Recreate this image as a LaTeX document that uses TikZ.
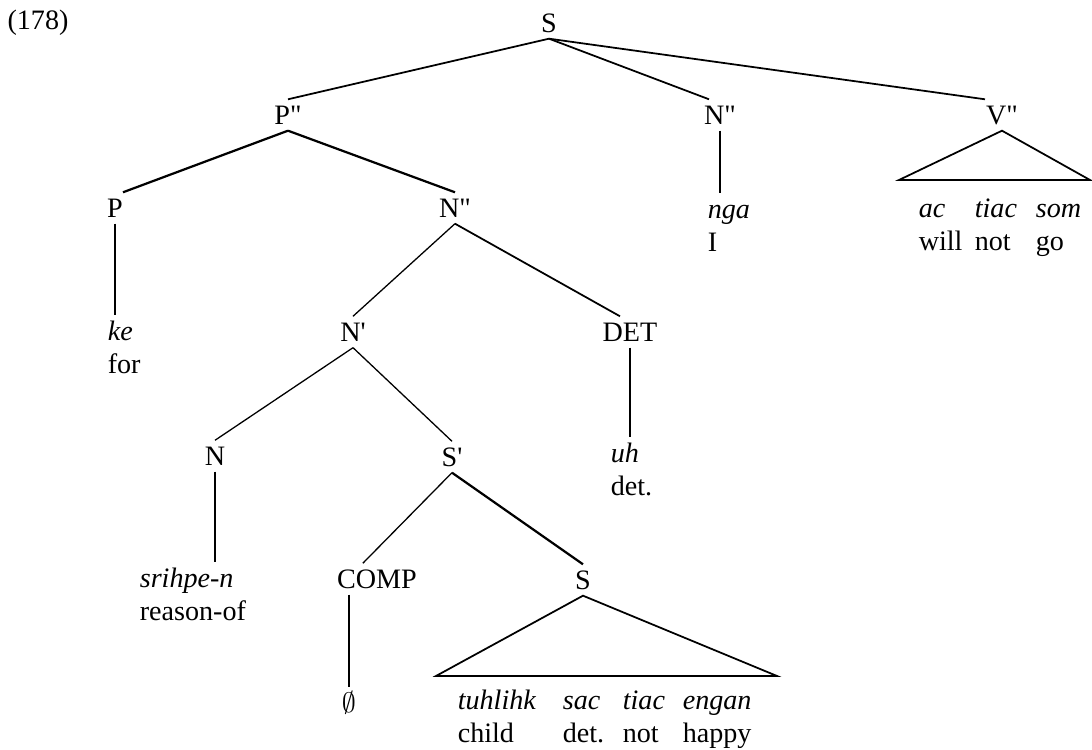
\documentclass[tikz,border=0pt]{standalone}
\usepackage{fontspec}
\setmainfont{Liberation Serif}[Ligatures=TeXOff]
\usetikzlibrary{calc}

\begin{document}
\begin{tikzpicture}[
    x=0.015cm, y=-0.015cm,
    every node/.style={font=\fontsize{12}{14}\selectfont},
    cat/.style={text height=8pt, text depth=0pt, inner sep=2.5pt},
    leaf/.style={anchor=north west, align=left, inner sep=1pt},
    branch/.style={line width=0.55pt},
    mid/.style={line width=0.75pt},
    heavy/.style={line width=0.95pt}
]
\useasboundingbox (0,0) rectangle (1092,750);

% example number
\node (num) at (38,23) {(178)};

% root and first level
\node[cat] (s) at (549,23) {S};
\node[cat] (pbar) at (288,115) {P"};
\node[cat] (nbar2) at (720,115) {N"};
\node[cat] (vbar) at (1002,115) {V"};

% second level
\node[cat] (p) at (115,208) {P};
\node[cat] (nbar1) at (455,208) {N"};
\node[leaf] (nga) at (705,193) {\strut\textit{nga}\\I};

% V'' triangle
\coordinate (vl) at (899,180);
\coordinate (vr) at (1090,180);
\node[leaf] (ac) at (916,192) {\strut\textit{ac}\\will};
\node[leaf] (tiac1) at (972,192) {\strut\textit{tiac}\\not};
\node[leaf] (som) at (1033,192) {\strut\textit{som}\\go};

% third level
\node[leaf] (ke) at (105,315) {\strut\textit{ke}\\for};
\node[cat] (nprime) at (353,332) {N'};
\node[cat] (det) at (630,332) {DET};

% fourth level
\node[cat] (n) at (215,456) {N};
\node[cat] (sbar) at (452,457) {S'};
\node[leaf] (uh) at (608,437) {\strut\textit{uh}\\det.};

% fifth level
\node[leaf] (srihpe) at (137,562) {\strut\textit{srihpe-n}\\reason-of};
\node[cat] (comp) at (377,579) {COMP};
\node[cat] (s2) at (583,580) {S};
\node[cat] (empty) at (349,703) {\large$\emptyset$};

% lower S triangle
\coordinate (sl) at (436,676);
\coordinate (sr) at (777,676);
\node[leaf] (tuhlihk) at (455,684) {\strut\textit{tuhlihk}\\child};
\node[leaf] (sac) at (560,684) {\strut\textit{sac}\\det.};
\node[leaf] (tiac2) at (620,684) {\strut\textit{tiac}\\not};
\node[leaf] (engan) at (680,684) {\strut\textit{engan}\\happy};

% branches
\draw[mid] (s.south) -- (pbar.north);
\draw[mid] (s.south) -- ($(nbar2.north)+(-11,0)$);
\draw[mid] (s.south) -- ($(vbar.north)+(-17,0)$);
\draw[heavy] (pbar.south) -- ($(p.north)+(8,0)$);
\draw[heavy] (pbar.south) -- (nbar1.north);
\draw[heavy] (p.south) -- (p.south |- ke.north);
\draw[heavy] (nbar2.south) -- (nbar2.south |- nga.north);
\draw[mid] (vbar.south) -- (vl) -- (vr) -- cycle;
\draw[branch] (nbar1.south) -- (nprime.north);
\draw[mid] (nbar1.south) -- ($(det.north)+(-10,0)$);
\draw[heavy] (det.south) -- (det.south |- uh.north);
\draw[branch] (nprime.south) -- (n.north);
\draw[branch] (nprime.south) -- (sbar.north);
\draw[heavy] (n.south) -- (n.south |- srihpe.north);
\draw[branch] (sbar.south) -- ($(comp.north west)+(32,0)$);
\draw[heavy] (sbar.south) -- (s2.north);
\draw[heavy] (empty |- comp.south) -- (empty.north);
\draw[mid] (s2.south) -- (sl) -- (sr) -- cycle;

\end{tikzpicture}
\end{document}
